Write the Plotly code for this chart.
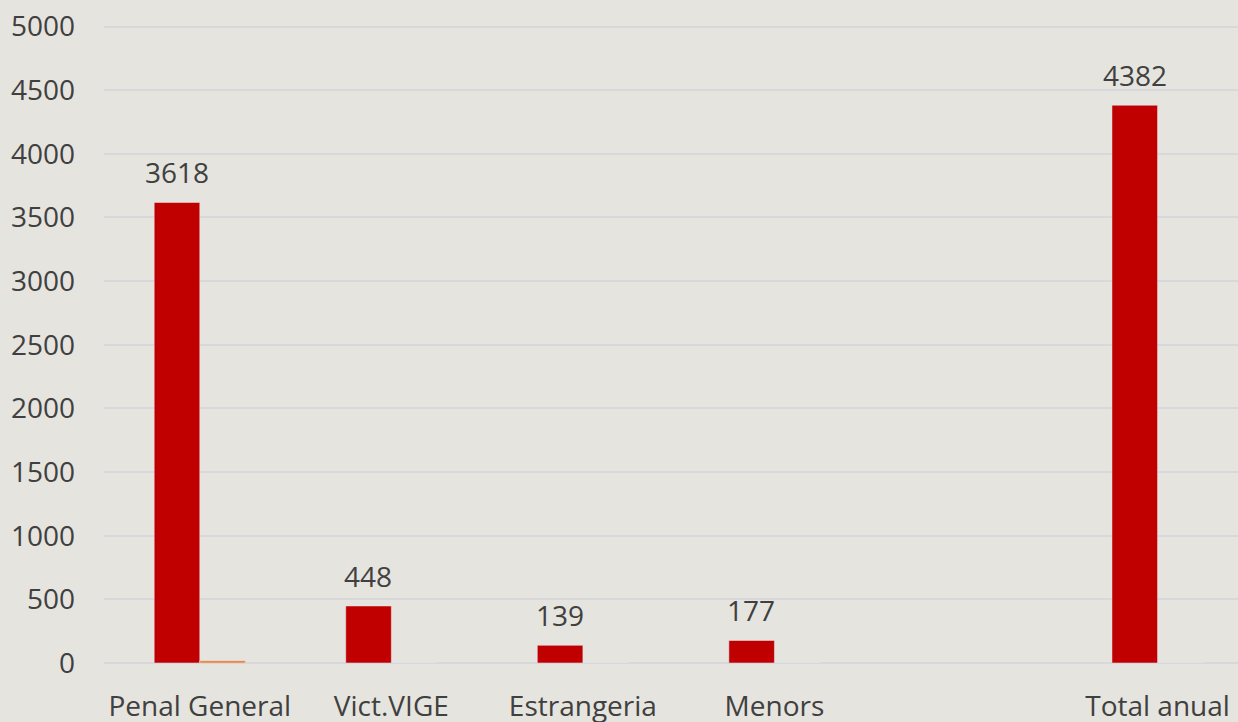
import plotly.graph_objects as go

categories = ["Penal General", "Vict.VIGE", "Estrangeria", "Menors", " ", "Total anual"]
red_values = [3618, 448, 139, 177, None, 4382]
orange_values = [18, 0, 0, 0, None, 0]
y_ticks = [0, 500, 1000, 1500, 2000, 2500, 3000, 3500, 4000, 4500, 5000]

RED = "#C00000"
ORANGE = "#ED7D31"
TEXT = "#404040"
GRID = "#d8d8dc"
FONT = "Open Sans, sans-serif"
SIZE = 28

fig = go.Figure()
fig.add_trace(go.Bar(x=categories, y=red_values, marker_color=RED, name="a"))
fig.add_trace(go.Bar(x=categories, y=orange_values, marker_color=ORANGE, name="b"))

# value labels above the red bars
annotations = []
for cat, val in zip(categories, red_values):
    if val is None:
        continue
    annotations.append(
        dict(
            x=cat, y=val, text=str(val), showarrow=False,
            xanchor="center", yanchor="bottom",
            xshift=-23, yshift=9,
            font=dict(family=FONT, size=SIZE, color=TEXT),
        )
    )

fig.update_layout(
    width=1238,
    height=722,
    barmode="group",
    bargap=0.524,
    bargroupgap=0,
    showlegend=False,
    paper_bgcolor="#e6e4de",
    plot_bgcolor="rgba(0,0,0,0)",
    margin=dict(l=104, r=0, t=24, b=59),
    font=dict(family=FONT, size=SIZE, color=TEXT),
    annotations=annotations,
    xaxis=dict(
        type="category",
        range=[-0.5, 5.42],
        showgrid=False,
        showline=False,
        ticks="",
        automargin=False,
        ticklabelstandoff=24,
        tickfont=dict(family=FONT, size=SIZE, color=TEXT),
    ),
    yaxis=dict(
        range=[0, 5020],
        tickvals=y_ticks,
        showgrid=True,
        gridcolor=GRID,
        gridwidth=1.5,
        zeroline=True,
        zerolinecolor=GRID,
        zerolinewidth=2,
        showline=False,
        ticks="",
        automargin=False,
        ticklabelstandoff=28,
        tickfont=dict(family=FONT, size=SIZE, color=TEXT),
    ),
)

fig.write_html(
    "out.html",
    config={"displayModeBar": False},
    post_script="document.body.style.margin='0';document.body.style.overflow='hidden';",
)
